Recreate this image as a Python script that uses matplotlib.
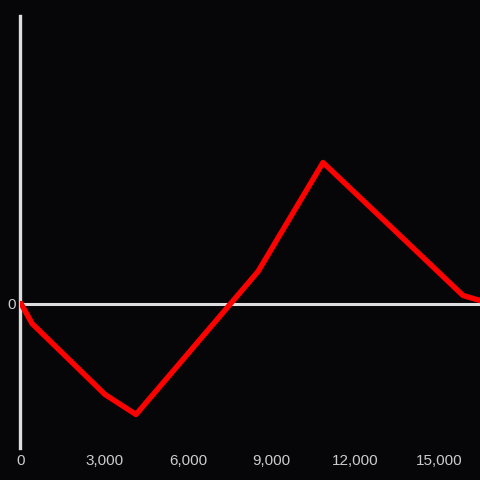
import matplotlib
matplotlib.use('Agg')
import matplotlib.pyplot as plt
from matplotlib.ticker import FuncFormatter

# data
x_vals = [0, 395, 3016, 4129, 8510, 10844, 13609, 15871, 16481]
y_vals = [0, -20, -91, -111, 32, 141, 68, 8, 3]
x_ticks = [0, 3000, 6000, 9000, 12000, 15000]

bg = '#060508'
fg = '#dddddd'

plt.rcParams['font.family'] = ['Liberation Sans', 'DejaVu Sans']

fig = plt.figure(figsize=(4.8, 4.8), dpi=100, facecolor=bg)
ax = fig.add_axes([20 / 480, 32 / 480, 460 / 480, 432 / 480], facecolor=bg)

ax.axhline(0, color=fg, lw=2.2, zorder=1)
ax.plot(x_vals, y_vals, color='#ff0000', lw=3.9, solid_joinstyle='round',
        solid_capstyle='round', zorder=3, clip_on=True)

ax.set_xlim(-36, 16481)
ax.set_ylim(-144.5, 287.5)

for s in ['top', 'right', 'bottom']:
    ax.spines[s].set_visible(False)
ax.spines['left'].set_color(fg)
ax.spines['left'].set_linewidth(2.4)
ax.spines['left'].set_zorder(2)

ax.set_xticks(x_ticks)
ax.xaxis.set_major_formatter(FuncFormatter(lambda v, p: '{:,.0f}'.format(v)))
ax.set_yticks([0])
ax.tick_params(axis='both', length=0, colors='#cccccc', labelsize=11)
ax.tick_params(axis='x', pad=4)
ax.tick_params(axis='y', pad=3)

fig.savefig('out.png', dpi=100, facecolor=bg)
